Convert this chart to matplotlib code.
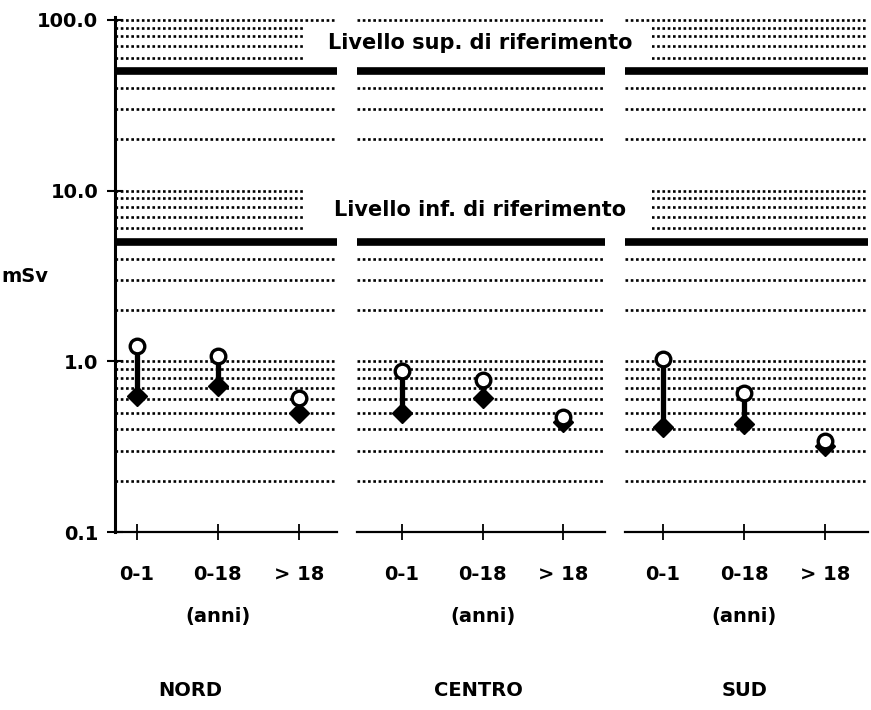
import matplotlib
matplotlib.use("Agg")
import matplotlib.pyplot as plt
import matplotlib.patches as mpatches
from matplotlib.ticker import LogLocator, NullFormatter, FixedLocator, FixedFormatter

plt.rcParams["font.family"] = ["DejaVu Sans"]
plt.rcParams["font.weight"] = "bold"

# dose ranges (mSv) per age class: lower estimate (filled) and upper estimate (open)
regions = ["NORD", "CENTRO", "SUD"]
age_classes = ["0-1", "0-18", "> 18"]
dose_high = {
    "NORD": [1.23, 1.08, 0.61],
    "CENTRO": [0.877, 0.78, 0.47],
    "SUD": [1.03, 0.65, 0.34],
}
dose_low = {
    "NORD": [0.625, 0.716, 0.50],
    "CENTRO": [0.50, 0.61, 0.44],
    "SUD": [0.41, 0.43, 0.32],
}
ref_levels = [5, 50]
ref_labels = ["Livello inf. di riferimento", "Livello sup. di riferimento"]
y_ticks = [0.1, 1, 10, 100]
y_ticklabels = ["0.1", "1.0", "10.0", "100.0"]

W, H = 871, 710
fig = plt.figure(figsize=(W / 100, H / 100), dpi=100)

# panel bounds in pixels (left, right) and x-limits
panels = [(115, 337, (-0.27, 2.47)), (357, 605, (-0.56, 2.52)), (625, 868, (-0.47, 2.53))]
y_bot, y_top = 532, 17
fs = 14

axes = []
for i, (reg, (x0, x1, xl)) in enumerate(zip(regions, panels)):
    ax = fig.add_axes([x0 / W, (H - y_bot) / H, (x1 - x0) / W, (y_bot - y_top) / H])
    ax.set_yscale("log")
    ax.set_ylim(0.1, 104)
    ax.set_xlim(*xl)

    # dotted grid on every decade step
    ax.yaxis.set_major_locator(FixedLocator(y_ticks))
    ax.yaxis.set_minor_locator(LogLocator(base=10, subs=range(2, 10)))
    ax.yaxis.set_minor_formatter(NullFormatter())
    ax.grid(which="both", axis="y", color="black", linestyle=(0, (1, 1)), linewidth=1.9)
    ax.grid(which="both", axis="x", visible=False)

    for lev in ref_levels:
        ax.axhline(lev, color="black", linewidth=5.5, solid_capstyle="butt", zorder=2)

    xs = range(len(age_classes))
    for x, lo, hi in zip(xs, dose_low[reg], dose_high[reg]):
        ax.plot([x, x], [lo, hi], color="black", linewidth=3.8, zorder=3)
    ax.plot(xs, dose_low[reg], linestyle="none", marker="D", markersize=10,
            color="black", zorder=4)
    ax.plot(xs, dose_high[reg], linestyle="none", marker="o", markersize=10.5,
            markerfacecolor="white", markeredgecolor="black", markeredgewidth=2.4, zorder=5)

    for s in ["top", "right"]:
        ax.spines[s].set_visible(False)
    ax.spines["bottom"].set_linewidth(1.6)
    ax.set_xticks(list(xs))
    ax.set_xticklabels(age_classes, fontsize=fs)
    ax.tick_params(axis="x", direction="inout", length=12, width=1.3, pad=18)
    if i == 0:
        ax.spines["left"].set_linewidth(2.2)
        ax.yaxis.set_major_formatter(FixedFormatter(y_ticklabels))
        ax.tick_params(axis="y", which="major", direction="inout", length=12,
                       width=1.5, labelsize=fs, pad=6)
        ax.tick_params(axis="y", which="minor", length=0)
    else:
        ax.spines["left"].set_visible(False)
        ax.tick_params(axis="y", which="both", left=False, labelleft=False)

    ax.text(1, -0.165, "(anni)", transform=ax.get_xaxis_transform(),
            ha="center", va="center", fontsize=fs)
    axes.append(ax)

# region names under each panel
for reg, xc in zip(regions, [190, 478, 745]):
    fig.text(xc / W, (H - 690) / H, reg, ha="center", va="center", fontsize=fs)

fig.text(25 / W, (H - 277) / H, "mSv", ha="center", va="center", fontsize=fs)

# reference level captions on a white band across the middle panel
for lab, (yc, by0, by1) in zip(ref_labels, [(210, 188, 234), (43, 24, 63)]):
    fig.patches.append(mpatches.Rectangle((303 / W, (H - by1) / H), 349 / W, (by1 - by0) / H,
                                          transform=fig.transFigure, facecolor="white",
                                          edgecolor="none", zorder=2.5))
    fig.text(480 / W, (H - yc) / H, lab, ha="center", va="center", fontsize=15, zorder=3)

fig.savefig("out.png", dpi=100, facecolor="white")
